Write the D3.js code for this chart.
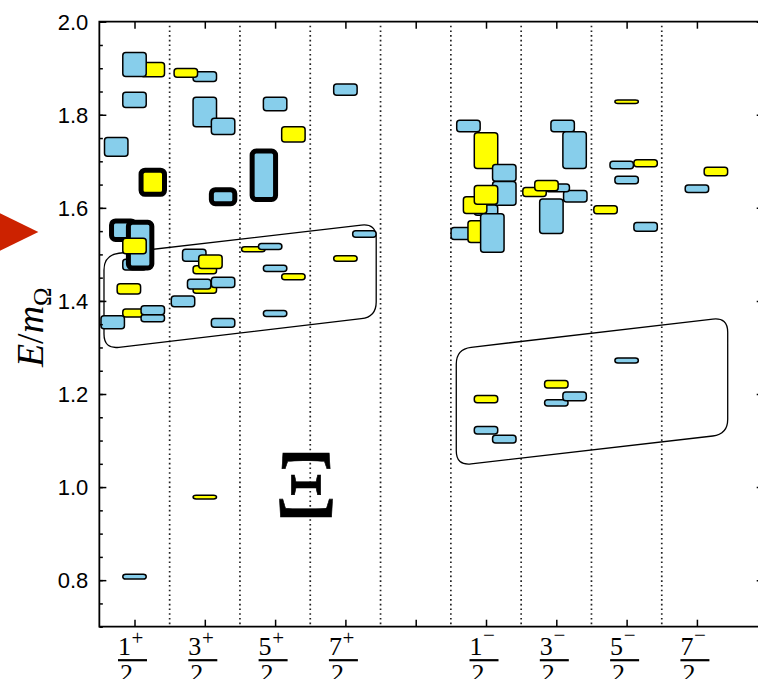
<!DOCTYPE html>
<html><head><meta charset="utf-8">
<script src="https://cdn.jsdelivr.net/npm/d3@7"></script>
<style>body{margin:0;background:#fff}svg{display:block}</style>
</head><body>
<svg id="chart" width="758" height="679"></svg>
<script>
// ---- data ----
const categories = ["1/2+","3/2+","5/2+","7/2+","","1/2-","3/2-","5/2-","7/2-"];
const yMajorTicks = [0.8, 1.0, 1.2, 1.4, 1.6, 1.8, 2.0];
const yMinorTicks = d3.range(0.70, 2.001, 0.05).map(v => +v.toFixed(2));
const dividers = [0.5, 1.5, 2.5, 3.5, 4.5, 5.5, 6.5, 7.5];
// levels per J^P: [slot offset (category units), E/m_Omega, error, flavour ("8" octet-like, "10" decuplet-like), singlet-dominated]
const levels_1_2p = [
  [0.26, 1.897, 0.0155, "10", 0], [0, 1.908, 0.026, "8", 0], [0, 1.832, 0.0165, "8", 0],
  [-0.26, 1.731, 0.020, "8", 0], [0.26, 1.655, 0.026, "10", 1], [-0.16, 1.552, 0.020, "8", 1],
  [0, 1.478, 0.0115, "8", 0], [0.08, 1.520, 0.049, "8", 1], [0, 1.518, 0.0165, "10", 0],
  [-0.08, 1.426, 0.011, "10", 0], [0, 1.374, 0.0085, "10", 0], [0.26, 1.363, 0.008, "8", 0],
  [0.26, 1.380, 0.0095, "8", 0], [-0.31, 1.354, 0.014, "8", 0], [0, 0.8075, 0.005, "8", 0]
];
const levels_3_2p = [
  [0, 1.882, 0.0105, "8", 0], [-0.27, 1.890, 0.0095, "10", 0], [0, 1.806, 0.0315, "8", 0],
  [0.26, 1.775, 0.0175, "8", 0], [0.26, 1.624, 0.015, "8", 1], [-0.15, 1.498, 0.013, "8", 0],
  [0, 1.467, 0.0085, "10", 0], [0.08, 1.484, 0.0145, "10", 0], [0, 1.425, 0.0085, "10", 0],
  [-0.08, 1.436, 0.0105, "8", 0], [0.26, 1.440, 0.011, "8", 0], [-0.31, 1.399, 0.0115, "8", 0],
  [0.26, 1.353, 0.0095, "8", 0], [0, 0.9785, 0.004, "10", 0]
];
const levels_5_2p = [
  [0, 1.823, 0.0145, "8", 0], [0.26, 1.758, 0.0165, "10", 0], [-0.16, 1.670, 0.052, "8", 1],
  [-0.31, 1.511, 0.0055, "10", 0], [-0.07, 1.517, 0.0065, "8", 0], [0, 1.470, 0.0065, "8", 0],
  [0.26, 1.452, 0.0065, "10", 0], [0, 1.373, 0.0065, "8", 0]
];
const levels_7_2p = [
  [0, 1.854, 0.012, "8", 0], [0, 1.491, 0.006, "10", 0], [0.27, 1.544, 0.007, "8", 0]
];
const levels_1_2m = [
  [-0.25, 1.776, 0.0125, "8", 0], [0, 1.723, 0.0385, "10", 0], [0.26, 1.675, 0.018, "8", 0],
  [0.26, 1.631, 0.0255, "8", 0], [0, 1.595, 0.011, "8", 0], [-0.155, 1.606, 0.018, "10", 0],
  [0, 1.628, 0.020, "10", 0], [-0.33, 1.545, 0.013, "8", 0], [-0.09, 1.549, 0.0235, "10", 0],
  [0.09, 1.546, 0.0415, "8", 0], [0, 1.189, 0.008, "10", 0], [0, 1.122, 0.008, "8", 0],
  [0.26, 1.103, 0.0085, "8", 0]
];
const levels_3_2m = [
  [0.09, 1.776, 0.0125, "8", 0], [0.26, 1.724, 0.0395, "8", 0], [0.27, 1.625, 0.0125, "8", 0],
  [0.02, 1.643, 0.0085, "8", 0], [-0.31, 1.634, 0.0095, "10", 0], [-0.14, 1.648, 0.011, "10", 0],
  [-0.07, 1.582, 0.037, "8", 0], [0, 1.221, 0.008, "10", 0], [0, 1.181, 0.0065, "8", 0],
  [0.26, 1.195, 0.0095, "8", 0]
];
const levels_5_2m = [
  [0, 1.828, 0.0035, "10", 0], [-0.07, 1.692, 0.008, "8", 0], [0.27, 1.696, 0.0075, "10", 0],
  [0, 1.660, 0.008, "8", 0], [-0.30, 1.596, 0.0085, "10", 0], [0.27, 1.559, 0.0095, "8", 0],
  [0, 1.272, 0.0055, "8", 0]
];
const levels_7_2m = [
  [0.27, 1.678, 0.009, "10", 0], [0, 1.641, 0.008, "8", 0]
];
const levelsByCategory = [levels_1_2p, levels_3_2p, levels_5_2p, levels_7_2p, [],
                          levels_1_2m, levels_3_2m, levels_5_2m, levels_7_2m];
// rounded bands grouping levels: corners [category units, E/m_Omega]
const bandPositive = [[-0.434, 1.4987], [3.438, 1.5667], [3.438, 1.3656], [-0.434, 1.2966]];
const bandNegative = [[4.577, 1.2966], [8.438, 1.3647], [8.438, 1.1135], [4.577, 1.0460]];
const markerLevel = 1.548;
const xiLabel = {text: "Ξ", cat: 2.44, value: 0.9348};

// ---- scales ----
const svg = d3.select("#chart");
const x = d3.scaleLinear().domain([-0.5, 8.95]).range([99.35, 763.7]);
const y = d3.scaleLinear().domain([0.7, 2.0]).range([626.7, 21.7]);
const boxW = x(1/3) - x(0);
const colors = {"8": "#87CEEB", "10": "#FFFF00"};
const pL = x(-0.5), pR = x(8.95), pT = y(2.0), pB = y(0.7);

// dotted dividers
svg.append("g").selectAll("line").data(dividers).join("line")
  .attr("x1", d => x(d)).attr("x2", d => x(d))
  .attr("y1", pT + 4).attr("y2", pB)
  .attr("stroke", "#222").attr("stroke-width", 1.7)
  .attr("stroke-dasharray", "1.6 3.1");

// rounded bands
function roundedPath(pts, r) {
  const P = pts.map(p => [x(p[0]), y(p[1])]);
  const n = P.length;
  let d = "";
  for (let i = 0; i < n; i++) {
    const prev = P[(i - 1 + n) % n], cur = P[i], next = P[(i + 1) % n];
    const v1 = [prev[0] - cur[0], prev[1] - cur[1]], v2 = [next[0] - cur[0], next[1] - cur[1]];
    const l1 = Math.hypot(...v1), l2 = Math.hypot(...v2);
    const a = [cur[0] + v1[0] / l1 * r, cur[1] + v1[1] / l1 * r];
    const b = [cur[0] + v2[0] / l2 * r, cur[1] + v2[1] / l2 * r];
    d += (i === 0 ? "M" : "L") + a[0] + "," + a[1] + "Q" + cur[0] + "," + cur[1] + " " + b[0] + "," + b[1];
  }
  return d + "Z";
}
svg.append("g").selectAll("path").data([bandPositive, bandNegative]).join("path")
  .attr("d", d => roundedPath(d, 15))
  .attr("fill", "none").attr("stroke", "#000").attr("stroke-width", 1.3);

// level boxes
const gBoxes = svg.append("g");
levelsByCategory.forEach((levels, ci) => {
  gBoxes.append("g").selectAll("rect").data(levels).join("rect")
    .attr("x", d => x(ci + d[0]) - boxW / 2)
    .attr("width", boxW)
    .attr("y", d => y(d[1] + d[2]))
    .attr("height", d => y(d[1] - d[2]) - y(d[1] + d[2]))
    .attr("rx", d => d[4] ? 4 : 3)
    .attr("fill", d => colors[d[3]])
    .attr("stroke", "#000")
    .attr("stroke-width", d => d[4] ? 5 : 1.5)
    .attr("stroke-linejoin", "round");
});

// Xi label
svg.append("text")
  .attr("transform", `translate(${x(xiLabel.cat)},${y(xiLabel.value)}) scale(1.02,1)`)
  .attr("text-anchor", "middle")
  .attr("font-family", "Liberation Serif, serif")
  .attr("font-size", 97)
  .attr("fill", "#000").attr("stroke", "#000").attr("stroke-width", 0.6)
  .text(xiLabel.text);

// red marker
{
  const tipX = pL - 61, yc = y(markerLevel);
  svg.append("path")
    .attr("d", d3.line()([[tipX - 58.35, yc - 28.6], [tipX, yc], [tipX - 58.35, yc + 28.6]]) + "Z")
    .attr("fill", "#CC2200");
}

// axes
const tickStyle = g => { g.select(".domain").remove(); g.selectAll(".tick line").attr("stroke", "#000").attr("stroke-width", 1.5); };
svg.append("g").attr("transform", `translate(${pL},0)`)
  .call(d3.axisLeft(y).tickValues(yMinorTicks).tickSize(-3.5).tickFormat("")).call(tickStyle);
svg.append("g").attr("transform", `translate(${pL},0)`)
  .call(d3.axisLeft(y).tickValues(yMajorTicks).tickSize(-7).tickPadding(11).tickFormat(d3.format(".1f")))
  .call(tickStyle)
  .call(g => g.selectAll("text").attr("font-family", "Liberation Sans, Arial, sans-serif")
    .attr("font-size", 22).attr("fill", "#000").attr("dy", "0.35em"));
svg.append("g").attr("transform", `translate(${pR},0)`)
  .call(d3.axisRight(y).tickValues(yMinorTicks).tickSize(-3.5).tickFormat("")).call(tickStyle);
svg.append("g").attr("transform", `translate(${pR},0)`)
  .call(d3.axisRight(y).tickValues(yMajorTicks).tickSize(-7).tickFormat("")).call(tickStyle);
const catIdx = categories.map((c, i) => i);
svg.append("g").attr("transform", `translate(0,${pB})`)
  .call(d3.axisBottom(x).tickValues(catIdx).tickSize(-7).tickFormat("")).call(tickStyle);
svg.append("g").attr("transform", `translate(0,${pT})`)
  .call(d3.axisTop(x).tickValues(catIdx).tickSize(-7).tickFormat("")).call(tickStyle);

// spines
svg.append("path")
  .attr("d", `M${pR},${pT}H${pL}V${pB}H${pR}V${pT}`)
  .attr("fill", "none").attr("stroke", "#000").attr("stroke-width", 1.8);

// fraction tick labels
const gLab = svg.append("g").attr("font-family", "Liberation Serif, serif").attr("fill", "#000");
categories.forEach((c, i) => {
  if (!c) return;
  const m = c.match(/^(\d+)\/(\d+)([+-])$/);
  const cx = x(i);
  gLab.append("text").attr("x", cx - 10).attr("y", pB + 28.5)
    .attr("text-anchor", "middle").attr("font-size", 26).text(m[1]);
  gLab.append("text").attr("x", cx + 3).attr("y", pB + (m[3] === "+" ? 18.5 : 15.5))
    .attr("text-anchor", "middle").attr("font-size", 21).text(m[3] === "+" ? "+" : "−");
  gLab.append("line").attr("x1", cx - 16.5).attr("x2", cx + 12.5)
    .attr("y1", pB + 33.5).attr("y2", pB + 33.5)
    .attr("stroke", "#000").attr("stroke-width", 2.2);
  gLab.append("text").attr("x", cx - 8).attr("y", pB + 55)
    .attr("text-anchor", "middle").attr("font-size", 26).text(m[2]);
});

// y axis label E/m_Omega
const yl = svg.append("text")
  .attr("transform", `translate(43,${(pT + pB) / 2 + 3}) rotate(-90)`)
  .attr("text-anchor", "middle")
  .attr("font-family", "Liberation Serif, serif").attr("font-size", 38).attr("fill", "#000");
yl.append("tspan").attr("font-style", "italic").text("E");
yl.append("tspan").text("/");
yl.append("tspan").attr("font-style", "italic").text("m");
yl.append("tspan").attr("font-size", 25).attr("dy", 8).text("Ω");
</script>
</body></html>
